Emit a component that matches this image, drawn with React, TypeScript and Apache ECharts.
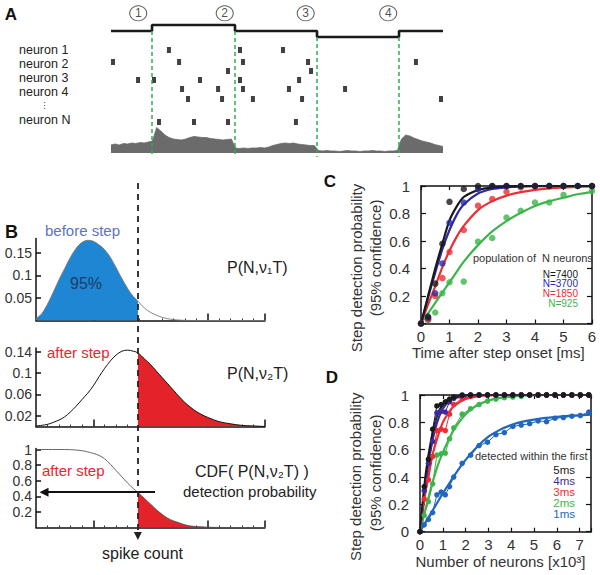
import React, { useEffect, useRef } from 'react';
import * as echarts from 'echarts';

const FONT = '"Liberation Sans", Arial, Helvetica, sans-serif';

// ---------------- Panel A ----------------
const stimTimes = [0, 24.7, 74.7, 124.1, 173.5, 200];
const stimLevels = [0.9, 1.5, 0.9, 0.3, 0.9, 0.9];
const stepTimes = [24.7, 74.7, 124.1, 173.5];
const stepDashTop = [0.6, 0.6, 1.2, 1.2];
const epochCentres = [16.4, 68.5, 117.3, 167];
const epochLabels = ['1', '2', '3', '4'];
const neuronLabels = ['neuron 1', 'neuron 2', 'neuron 3', 'neuron 4', 'neuron N'];
const spikeTimes = [
  34.9, 77.7, 103.6,
  1.2, 41.0, 79.5, 118.7, 183.7,
  70.5, 120.5,
  16.3, 25.9, 53.6, 77.7, 113.3,
  42.8, 64.5, 79.5, 107.2, 141.0,
  46.4, 66.9, 85.5, 115.1, 198.8,
  28.9, 50.0, 70.5, 111.4,
];
const spikeRows = [
  2.5, 2.5, 2.5,
  3.7, 3.7, 3.7, 3.7, 3.7,
  4.6, 4.6,
  5.5, 5.5, 5.5, 5.5, 5.5,
  6.4, 6.4, 6.4, 6.4, 6.4,
  7.4, 7.4, 7.4, 7.4, 7.4,
  9.7, 9.7, 9.7, 9.7,
];
const popRateStep = 2.5;
const popRate = [
  8, 9, 8, 9.5, 9, 10, 9.5, 10.5, 10, 11, 12,
  25.5, 22, 18, 15.5, 14, 13.5, 13, 14, 15.5, 16.5, 16, 15.5, 15.5, 14.5, 14, 13.5, 13, 13.5, 14,
  5, 4.5, 5, 4.5, 5, 5, 5.5, 5, 6, 7.5, 8.5, 9.5, 10, 9.5, 10, 9, 8.5, 8, 7.5, 7.5,
  2.5, 2, 2.5, 2, 2, 1.5, 2, 2.5, 2, 2, 1.5, 2, 2, 2.5, 2, 2, 1.5, 2, 2, 2.5,
  14, 18, 17, 15, 13.5, 12, 11, 10, 8.5, 7.5, 6.5,
];

// ---------------- Panel B ----------------
const threshold = 17.8;
const bMajorTicks = [10, 30, 40];
const b1X = [0, 1, 2, 3, 4, 5, 6, 7, 8, 9, 10, 11, 12, 13, 14, 15, 16, 17, 17.8, 19, 20, 21, 22, 23, 24, 25, 26, 28, 40];
const b1Y = [0.004, 0.015, 0.036, 0.062, 0.09, 0.115, 0.14, 0.16, 0.173, 0.178, 0.176, 0.168, 0.157, 0.14, 0.117, 0.093, 0.071, 0.053, 0.043, 0.027, 0.018, 0.012, 0.007, 0.004, 0.002, 0.001, 0.0003, 0, 0];
const b2X = [0, 2, 4, 5, 6, 7, 8, 9, 10, 11, 12, 13, 14, 15, 16, 17, 17.8, 19, 20, 21, 22, 23, 24, 25, 26, 27, 28, 29, 30, 32, 34, 36, 38, 40];
const b2Y = [0.001, 0.004, 0.012, 0.018, 0.027, 0.038, 0.05, 0.062, 0.076, 0.093, 0.109, 0.123, 0.134, 0.141, 0.143, 0.141, 0.138, 0.126, 0.116, 0.104, 0.092, 0.08, 0.068, 0.056, 0.045, 0.036, 0.028, 0.022, 0.017, 0.009, 0.005, 0.002, 0.001, 0];
const b3X = [0, 4, 6, 7, 8, 9, 10, 11, 12, 13, 14, 15, 16, 17, 17.8, 19, 20, 21, 22, 23, 24, 25, 26, 27, 28, 30, 32, 34, 40];
const b3Y = [1, 1, 0.998, 0.993, 0.985, 0.97, 0.95, 0.925, 0.88, 0.81, 0.73, 0.65, 0.57, 0.5, 0.45, 0.37, 0.3, 0.23, 0.17, 0.12, 0.085, 0.06, 0.035, 0.02, 0.012, 0.004, 0.001, 0, 0];
const b1Ticks = [0.05, 0.1, 0.15];
const b2Ticks = [0.02, 0.06, 0.1, 0.14];
const b3Ticks = [0.2, 0.4, 0.6, 0.8, 1];
const detectionLevel = 0.453;

// ---------------- Panel C ----------------
const cDotX = [0, 0.25, 0.5, 0.75, 1, 1.5, 2, 2.5, 3, 3.5, 4, 4.5, 5, 5.5, 6];
const cDot7400 = [0, 0.05, 0.29, 0.58, 0.885, 0.978, 1, 1, 1, 1, 1, 1, 1, 1, 1];
const cDot3700 = [0, 0.04, 0.22, 0.437, 0.733, 0.88, 0.978, 1, 1, 1, 1, 1, 1, 1, 1];
const cDot1850 = [0, 0.03, 0.2, 0.33, 0.52, 0.68, 0.857, 0.905, 0.958, 0.99, 1, 1, 1, 1, 1];
const cDot925 = [0, 0.025, 0.08, 0.22, 0.3, 0.305, 0.595, 0.622, 0.77, 0.82, 0.88, 0.88, 0.935, null, 0.965];
const cFitX = [0, 0.25, 0.5, 0.75, 1, 1.25, 1.5, 2, 2.5, 3, 3.5, 4, 4.5, 5, 5.5, 6];
const cFit7400 = [0, 0.2, 0.4, 0.58, 0.75, 0.85, 0.92, 0.97, 0.99, 0.997, 1, 1, 1, 1, 1, 1];
const cFit3700 = [0, 0.19, 0.37, 0.54, 0.68, 0.79, 0.865, 0.945, 0.978, 0.99, 0.996, 0.999, 1, 1, 1, 1];
const cFit1850 = [0, 0.14, 0.27, 0.41, 0.53, 0.63, 0.71, 0.825, 0.89, 0.93, 0.955, 0.972, 0.983, 0.99, 0.994, 0.997];
const cFit925 = [0, 0.075, 0.15, 0.225, 0.3, 0.375, 0.45, 0.57, 0.67, 0.745, 0.805, 0.855, 0.89, 0.915, 0.94, 0.955];
const cLegend = ['N=7400', 'N=3700', 'N=1850', 'N=925'];

// ---------------- Panel D ----------------
const dDotX = [0, 0.185, 0.37, 0.555, 0.74, 0.925, 1.11, 1.295, 1.48, 1.85, 2.22, 2.59, 2.96, 3.33, 3.7, 4.07, 4.44, 4.81, 5.18, 5.55, 5.92, 6.29, 6.66, 7.03, 7.4];
const d5ms = [0, 0.33, 0.53, 0.75, 0.92, 0.93, 0.95, 0.97, 0.985, 1, 1, 1, 1, 1, 1, 1, 1, 1, 1, 1, 1, 1, 1, 1, 1];
const d4ms = [0, 0.3, 0.5, 0.66, 0.87, 0.88, 0.875, 0.95, 0.975, 0.995, 1, 1, 1, 1, 1, 1, 1, 1, 1, 1, 1, 1, 1, 1, 1];
const d3ms = [0, 0.24, 0.38, 0.55, 0.74, 0.75, 0.74, 0.86, 0.93, 0.975, 0.99, 1, 1, 1, 1, 1, 1, 1, 1, 1, 1, 1, 1, 1, 1];
const d2ms = [0, 0.12, 0.22, 0.35, 0.56, 0.57, 0.575, 0.68, 0.76, 0.86, 0.9, 0.93, 0.955, 0.97, 0.98, 0.985, 0.99, 1, 1, 1, 1, 1, 1, 1, 1];
const d1ms = [0, 0.05, 0.09, 0.14, 0.27, 0.29, 0.27, 0.33, 0.4, 0.5, 0.56, 0.63, 0.655, 0.71, 0.725, 0.77, 0.78, 0.79, 0.81, 0.805, 0.83, 0.835, 0.845, 0.85, 0.875];
const dFitX = [0, 0.25, 0.5, 0.75, 1, 1.25, 1.5, 2, 2.5, 3, 3.5, 4, 4.5, 5, 5.5, 6, 6.5, 7, 7.5];
const dFit5 = [0, 0.42, 0.68, 0.85, 0.93, 0.97, 0.985, 0.998, 1, 1, 1, 1, 1, 1, 1, 1, 1, 1, 1];
const dFit4 = [0, 0.37, 0.63, 0.8, 0.9, 0.95, 0.975, 0.995, 1, 1, 1, 1, 1, 1, 1, 1, 1, 1, 1];
const dFit3 = [0, 0.3, 0.53, 0.68, 0.8, 0.87, 0.92, 0.97, 0.99, 0.997, 1, 1, 1, 1, 1, 1, 1, 1, 1];
const dFit2 = [0, 0.17, 0.33, 0.47, 0.58, 0.67, 0.75, 0.86, 0.925, 0.96, 0.98, 0.99, 0.995, 0.998, 1, 1, 1, 1, 1];
const dFit1 = [0, 0.07, 0.14, 0.21, 0.28, 0.345, 0.41, 0.525, 0.62, 0.695, 0.745, 0.78, 0.805, 0.82, 0.832, 0.84, 0.847, 0.853, 0.857];
const dLegend = ['5ms', '4ms', '3ms', '2ms', '1ms'];

const BLACK = '#1a1a1a';
const C_BLUE = '#2a2aa6';
const RED = '#ec2d33';
const GREEN = '#3db54a';
const D_PURPLE = '#3d2a9e';
const D_BLUE = '#2167bd';

function pairs(xs: number[], ys: (number | null)[]) {
  return xs.map((x, i) => [x, ys[i]]).filter((p) => p[1] !== null && p[1] !== undefined);
}

function txt(text: string, x: number, y: number, o: any = {}) {
  const style: any = {
    text,
    fontSize: o.size || 15,
    fontFamily: FONT,
    fontWeight: o.weight || 'normal',
    fill: o.color || '#222',
    align: o.align || 'left',
    verticalAlign: 'middle',
  };
  if (o.lineHeight) style.lineHeight = o.lineHeight;
  return { type: 'text', x, y, rotation: o.rotation || 0, silent: true, z: 50, style };
}

function buildOption() {
  const axisLineStyle = { color: '#111', width: 1.5 };
  const hiddenAxis = (gridIndex: number, min: number, max: number, extra: any = {}) => ({
    type: 'value', gridIndex, min, max, show: false, ...extra,
  });
  const bX = (gridIndex: number) => ({
    type: 'value', gridIndex, min: 0, max: 40, interval: 10,
    axisLine: { show: true, onZero: false, lineStyle: axisLineStyle },
    axisTick: { show: true, inside: true, length: 7, customValues: bMajorTicks, lineStyle: { color: '#111', width: 1.5 } },
    minorTick: { show: true, splitNumber: 5, length: 2, lineStyle: { color: '#333', width: 1 } },
    axisLabel: { show: false },
    splitLine: { show: false },
  });
  const bY = (gridIndex: number, max: number, ticks: number[]) => ({
    type: 'value', gridIndex, min: 0, max,
    axisLine: { show: true, onZero: false, lineStyle: axisLineStyle },
    axisTick: { show: true, inside: true, length: 5, customValues: ticks, lineStyle: { color: '#111', width: 1.5 } },
    axisLabel: { show: true, customValues: ticks, fontSize: 14, color: '#333', margin: 4, fontFamily: FONT },
    splitLine: { show: false },
  });
  const boxX = (gridIndex: number, max: number, position: string, labels: boolean) => ({
    type: 'value', gridIndex, min: 0, max, interval: 1, position,
    axisLine: { show: true, onZero: false, lineStyle: axisLineStyle },
    axisTick: { show: true, inside: true, length: 4, lineStyle: { color: '#111', width: 1.2 } },
    axisLabel: {
      show: labels, fontSize: 15, color: '#333', margin: 5, fontFamily: FONT,
      formatter: (v: number) => (Math.abs(v - Math.round(v)) < 1e-6 ? String(Math.round(v)) : ''),
    },
    splitLine: { show: false },
  });
  const boxY = (gridIndex: number, position: string, labels: boolean, showZero: boolean) => ({
    type: 'value', gridIndex, min: 0, max: 1, interval: 0.2, position,
    axisLine: { show: true, onZero: false, lineStyle: axisLineStyle },
    axisTick: { show: true, inside: true, length: 5, lineStyle: { color: '#111', width: 1.2 } },
    axisLabel: {
      show: labels, fontSize: 15, color: '#333', margin: 11, fontFamily: FONT,
      formatter: (v: number) => (v === 0 && !showZero ? '' : String(+v.toFixed(1))),
    },
    splitLine: { show: false },
  });

  const grids = [
    { left: 111, top: 5, width: 332, height: 35 },
    { left: 111, top: 25, width: 332, height: 132 },
    { left: 111, top: 120, width: 332, height: 33 },
    { left: 36, top: 238.5, width: 229, height: 82 },
    { left: 36, top: 348, width: 229, height: 78.5 },
    { left: 36, top: 448.5, width: 229, height: 79 },
    { left: 36, top: 183, width: 229, height: 353 },
    { left: 421, top: 186, width: 171, height: 137.5 },
    { left: 420, top: 395, width: 171, height: 136.7 },
  ].map((g) => ({ ...g, containLabel: false, outerBoundsMode: 'none' }));

  const xAxis = [
    hiddenAxis(0, 0, 200),
    hiddenAxis(1, 0, 200),
    hiddenAxis(2, 0, 200),
    bX(3), bX(4), bX(5),
    hiddenAxis(6, 0, 40),
    boxX(7, 6, 'bottom', true),
    boxX(7, 6, 'top', false),
    boxX(8, 7.5, 'bottom', true),
    boxX(8, 7.5, 'top', false),
  ];
  const yAxis = [
    hiddenAxis(0, 0, 3.5),
    hiddenAxis(1, 0, 13.2, { inverse: true }),
    hiddenAxis(2, 0, 33),
    bY(3, 0.182, b1Ticks),
    bY(4, 0.147, b2Ticks),
    bY(5, 1.013, b3Ticks),
    hiddenAxis(6, 0, 1),
    boxY(7, 'left', true, false),
    boxY(7, 'right', false, false),
    boxY(8, 'left', true, true),
    boxY(8, 'right', false, false),
  ];

  const series: any[] = [];
  // ---- A ----
  series.push({
    type: 'line', xAxisIndex: 0, yAxisIndex: 0, data: pairs(stimTimes, stimLevels), step: 'end',
    symbol: 'none', clip: false, lineStyle: { color: BLACK, width: 2.6 }, z: 4,
  });
  series.push({
    type: 'scatter', xAxisIndex: 0, yAxisIndex: 0, clip: false,
    data: epochCentres.map((t) => [t, 2.67]),
    symbol: 'circle', symbolSize: [17, 15],
    itemStyle: { color: '#fff', borderColor: '#333', borderWidth: 1 },
    label: {
      show: true, position: 'inside', fontSize: 12, color: '#222', fontFamily: FONT,
      formatter: (p: any) => epochLabels[p.dataIndex],
    },
  });
  series.push({
    type: 'line', xAxisIndex: 2, yAxisIndex: 2, z: 2,
    data: popRate.map((h, i) => [i * popRateStep, h]),
    symbol: 'none', lineStyle: { color: '#6b6b6b', width: 0.8 },
    areaStyle: { color: '#6b6b6b', opacity: 1 },
  });
  series.push({
    type: 'scatter', xAxisIndex: 1, yAxisIndex: 1, z: 5, clip: false,
    data: pairs(spikeTimes, spikeRows),
    symbol: 'rect', symbolSize: [4, 6], itemStyle: { color: '#111' },
    markLine: {
      silent: true, symbol: ['none', 'none'], label: { show: false }, z: 6,
      lineStyle: { type: [4, 3], color: '#2fae4b', width: 1.5 },
      data: stepTimes.map((t, i) => [{ coord: [t, stepDashTop[i]] }, { coord: [t, 13.2] }]),
    },
  });

  // ---- B ----
  const curve = (xi: number, xs: number[], ys: number[], color: string, width: number) => ({
    type: 'line', xAxisIndex: xi, yAxisIndex: xi, data: pairs(xs, ys), smooth: 0.3,
    symbol: 'none', lineStyle: { color, width }, z: 3,
  });
  const fill = (xi: number, xs: number[], ys: number[], color: string, below: boolean) => ({
    type: 'line', xAxisIndex: xi, yAxisIndex: xi, smooth: 0.3, symbol: 'none', z: 2,
    data: pairs(xs, ys).filter((p: any) => (below ? p[0] <= threshold : p[0] >= threshold)),
    lineStyle: { width: 0 }, areaStyle: { color, opacity: 1 },
  });
  series.push(fill(3, b1X, b1Y, '#1e86d2', true));
  series.push(curve(3, b1X, b1Y, '#777', 0.9));
  series.push(fill(4, b2X, b2Y, '#e4222a', false));
  series.push(curve(4, b2X, b2Y, '#111', 1));
  series.push(fill(5, b3X, b3Y, '#e4222a', false));
  series.push({
    ...curve(5, b3X, b3Y, '#555', 0.9),
    markLine: {
      silent: true, symbol: ['none', 'triangle'], symbolSize: 9, label: { show: false },
      lineStyle: { type: 'solid', color: '#111', width: 1.8 },
      data: [[{ coord: [20.8, detectionLevel] }, { coord: [1.4, detectionLevel] }]],
    },
  });
  series.push({
    type: 'line', xAxisIndex: 6, yAxisIndex: 6, data: [[threshold, 0]], symbol: 'none', z: 8,
    lineStyle: { width: 0 },
    markLine: {
      silent: true, symbol: ['none', 'triangle'], symbolSize: 8, label: { show: false },
      lineStyle: { type: [6, 5], color: '#222', width: 1.8 },
      data: [[{ coord: [threshold, 1] }, { coord: [threshold, 0] }]],
    },
  });

  // ---- C ----
  const cFits = [
    [cFit925, GREEN], [cFit1850, RED], [cFit3700, C_BLUE], [cFit7400, BLACK],
  ] as const;
  cFits.forEach(([ys, col]) => series.push({
    type: 'line', xAxisIndex: 7, yAxisIndex: 7, data: pairs(cFitX, ys as number[]), smooth: 0.3,
    symbol: 'none', clip: false, lineStyle: { color: col, width: 2.2 }, z: 3,
  }));
  const cDots = [
    [cDot925, GREEN], [cDot1850, RED], [cDot3700, C_BLUE], [cDot7400, BLACK],
  ] as const;
  cDots.forEach(([ys, col]) => series.push({
    type: 'scatter', xAxisIndex: 7, yAxisIndex: 7, data: pairs(cDotX, ys as any), clip: false,
    symbol: 'circle', symbolSize: 6.5, itemStyle: { color: col }, z: 4,
  }));

  // ---- D ----
  const dSets = [
    [d1ms, dFit1, D_BLUE], [d2ms, dFit2, GREEN], [d3ms, dFit3, RED], [d4ms, dFit4, D_PURPLE], [d5ms, dFit5, BLACK],
  ] as const;
  dSets.forEach(([dots, fit, col]) => {
    series.push({
      type: 'line', xAxisIndex: 9, yAxisIndex: 9, data: pairs(dFitX, fit as number[]), smooth: 0.3,
      symbol: 'none', clip: false, lineStyle: { color: col, width: 2.2 }, z: 3,
    });
    series.push({
      type: 'line', xAxisIndex: 9, yAxisIndex: 9, data: pairs(dDotX, dots as number[]), clip: false,
      symbol: 'circle', symbolSize: 5.5, showSymbol: true, itemStyle: { color: col },
      lineStyle: { color: col, width: 1 }, z: 4,
    });
  });

  // ---- Texts ----
  const graphic: any[] = [
    txt('A', 11, 14, { size: 17, weight: 'bold', align: 'center', color: '#111' }),
    txt('B', 11.5, 231.5, { size: 18, weight: 'bold', align: 'center', color: '#111' }),
    txt('C', 330, 181, { size: 17, weight: 'bold', align: 'center', color: '#111' }),
    txt('D', 332, 377.5, { size: 17, weight: 'bold', align: 'center', color: '#111' }),
  ];
  const neuronY = [49.5, 63.5, 77.5, 91.5, 119.5];
  neuronLabels.forEach((l, i) => graphic.push(txt(l, 19, neuronY[i], { size: 12.5, color: '#222', lineHeight: 12 })));
  graphic.push(txt('⋮', 44, 105.5, { size: 9, align: 'center', color: '#444', lineHeight: 8 }));

  graphic.push(txt('before step', 45, 230, { size: 15, color: '#5d73c8' }));
  graphic.push(txt('95%', 86, 283, { size: 16, align: 'center', color: '#1d3c66' }));
  graphic.push(txt('P(N,ν₁T)', 227, 267, { size: 16, color: '#222' }));
  graphic.push(txt('after step', 47, 352, { size: 15, color: '#e8262d' }));
  graphic.push(txt('P(N,ν₂T)', 227, 373, { size: 16, color: '#222' }));
  graphic.push(txt('after step', 42, 470, { size: 15, color: '#e8262d' }));
  graphic.push(txt('CDF( P(N,ν₂T) )', 195, 471, { size: 16, color: '#222' }));
  graphic.push(txt('detection probability', 183, 491, { size: 15, color: '#222' }));
  graphic.push(txt('spike count', 142.5, 553, { size: 16, align: 'center', color: '#222' }));

  const rot = Math.PI / 2;
  graphic.push(txt('Step detection probability', 356.7, 268, { size: 15, align: 'center', rotation: rot, color: '#333' }));
  graphic.push(txt('(95% confidence)', 375, 258, { size: 15, align: 'center', rotation: rot, color: '#333' }));
  graphic.push(txt('Time after step onset [ms]', 498.3, 352.7, { size: 15, align: 'center', color: '#333' }));
  graphic.push(txt('population of  N neurons', 473, 258, { size: 11, color: '#333' }));
  const cLegendCols = [BLACK, C_BLUE, RED, GREEN];
  const cLegendY = [274, 283.5, 293, 303];
  cLegend.forEach((l, i) => graphic.push(txt(l, 578, cLegendY[i], { size: 10, align: 'right', color: cLegendCols[i] })));

  graphic.push(txt('Step detection probability', 355, 476.7, { size: 15, align: 'center', rotation: rot, color: '#333' }));
  graphic.push(txt('(95% confidence)', 375, 473, { size: 15, align: 'center', rotation: rot, color: '#333' }));
  graphic.push(txt('Number of neurons [x10³]', 500.5, 561.7, { size: 15, align: 'center', color: '#333' }));
  graphic.push(txt('detected within the first', 475, 456, { size: 11, color: '#333' }));
  const dLegendCols = [BLACK, D_PURPLE, RED, GREEN, D_BLUE];
  const dLegendY = [470, 481, 492, 503, 514];
  dLegend.forEach((l, i) => graphic.push(txt(l, 575, dLegendY[i], { size: 11.5, align: 'right', color: dLegendCols[i] })));

  return {
    animation: false,
    backgroundColor: '#fff',
    textStyle: { fontFamily: FONT },
    grid: grids,
    xAxis,
    yAxis,
    series,
    graphic,
  };
}

export default function App() {
  const ref = useRef<HTMLDivElement>(null);
  useEffect(() => {
    const chart = echarts.init(ref.current as HTMLDivElement, null, { renderer: 'svg' });
    chart.setOption(buildOption() as any);
    return () => chart.dispose();
  }, []);
  return (
    <div
      ref={ref}
      style={{ position: 'fixed', left: 0, top: 0, width: 600, height: 575, background: '#fff' }}
    />
  );
}
